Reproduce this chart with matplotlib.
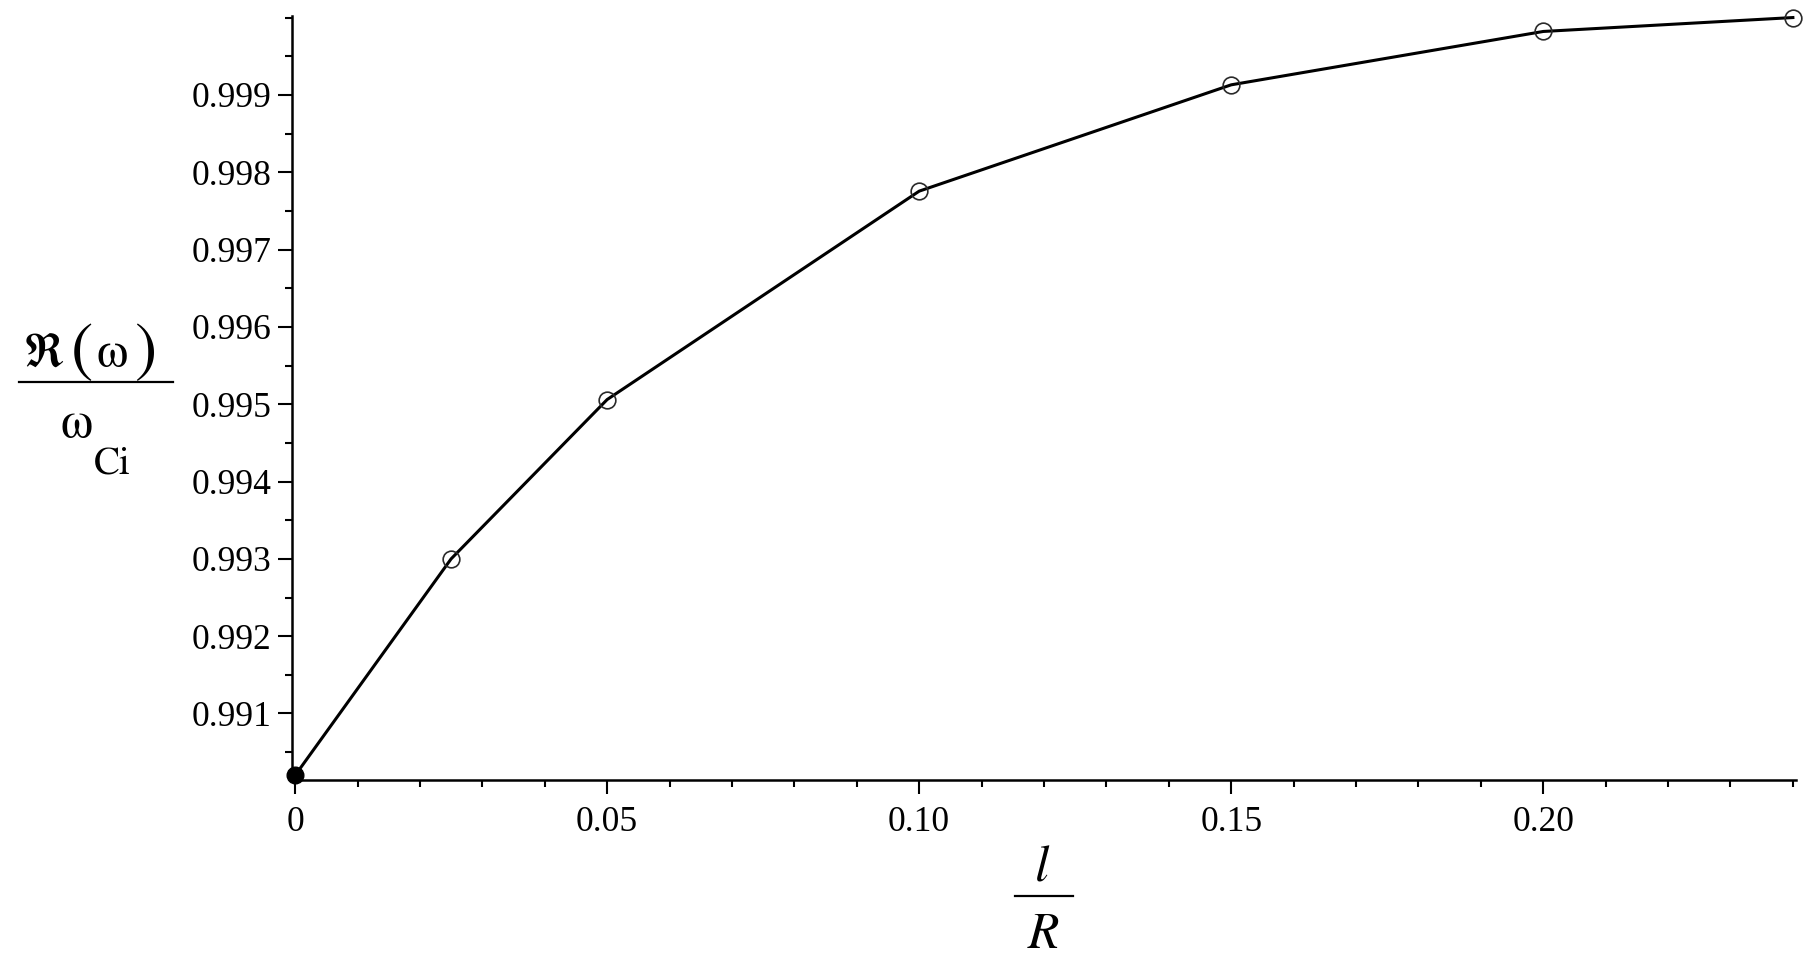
import matplotlib
matplotlib.use('Agg')
import matplotlib.pyplot as plt
from matplotlib.lines import Line2D
from matplotlib.ticker import MultipleLocator, FixedLocator

# data
l_over_R = [0, 0.025, 0.05, 0.10, 0.15, 0.20, 0.24]
re_omega = [0.9902, 0.993, 0.99506, 0.997755, 0.99913, 0.99982, 1.0]

x_ticks = [0, 0.05, 0.10, 0.15, 0.20]
x_labels = ['0', '0.05', '0.10', '0.15', '0.20']
y_ticks = [0.991, 0.992, 0.993, 0.994, 0.995, 0.996, 0.997, 0.998, 0.999]
y_labels = ['0.991', '0.992', '0.993', '0.994', '0.995', '0.996', '0.997', '0.998', '0.999']

W, H = 1820, 964
fig = plt.figure(figsize=(W / 100, H / 100), dpi=100)

def fx(px):                     # pixel -> figure fraction
    return px / W

def fy(py):
    return 1 - py / H

ax = fig.add_axes([fx(292), fy(780), fx(1796) - fx(292), fy(16) - fy(780)])

ax.plot(l_over_R, re_omega, color='black', lw=2.2, zorder=2, clip_on=False)
ax.plot(l_over_R[1:], re_omega[1:], 'o', mfc='none', mec='#2a2a2a', ms=12, mew=1.2, zorder=3, clip_on=False)
ax.plot(l_over_R[:1], re_omega[:1], 'o', color='black', ms=12, zorder=4, clip_on=False)

ax.set_xlim(-0.0005, 0.2405)
ax.set_ylim(0.99014, 1.00002)

for s in ['top', 'right']:
    ax.spines[s].set_visible(False)
for s in ['left', 'bottom']:
    ax.spines[s].set_linewidth(1.8)

ax.xaxis.set_major_locator(FixedLocator(x_ticks))
ax.set_xticklabels(x_labels)
ax.xaxis.set_minor_locator(MultipleLocator(0.01))
ax.yaxis.set_major_locator(FixedLocator(y_ticks))
ax.set_yticklabels(y_labels)
ax.yaxis.set_minor_locator(MultipleLocator(0.0005))

ax.tick_params(which='major', length=10, width=1.5, direction='out', labelsize=25.5)
ax.tick_params(which='minor', length=5, width=1.5, direction='out')
ax.tick_params(axis='x', which='major', pad=9)
ax.tick_params(axis='y', which='major', pad=5)
for t in ax.get_xticklabels() + ax.get_yticklabels():
    t.set_fontfamily('Liberation Serif')

# y label: Re(omega) / omega_Ci
fig.text(fx(44), fy(367), 'ℜ', family='STIXGeneral', fontsize=34, ha='center', va='baseline')
fig.text(fx(82), fy(369), '(', family='STIXGeneral', fontsize=48, ha='center', va='baseline')
fig.text(fx(112), fy(367), 'ω', family='STIXGeneral', fontsize=36, ha='center', va='baseline')
fig.text(fx(145), fy(369), ')', family='STIXGeneral', fontsize=48, ha='center', va='baseline')
fig.add_artist(Line2D([fx(19), fx(173)], [fy(382), fy(382)], color='black', lw=1.6))
fig.text(fx(77), fy(437), 'ω', family='STIXGeneral', fontsize=37, ha='center', va='baseline')
fig.text(fx(94), fy(474), 'Ci', family='STIXGeneral', fontsize=28, ha='left', va='baseline')

# x label: l / R
fig.text(fx(1042), fy(882), 'l', family='STIXGeneral', style='italic', fontsize=37, ha='center', va='baseline')
fig.add_artist(Line2D([fx(1015), fx(1073)], [fy(896), fy(896)], color='black', lw=1.6))
fig.text(fx(1043), fy(948), 'R', family='STIXGeneral', style='italic', fontsize=37, ha='center', va='baseline')

fig.savefig('out.png', dpi=100)
